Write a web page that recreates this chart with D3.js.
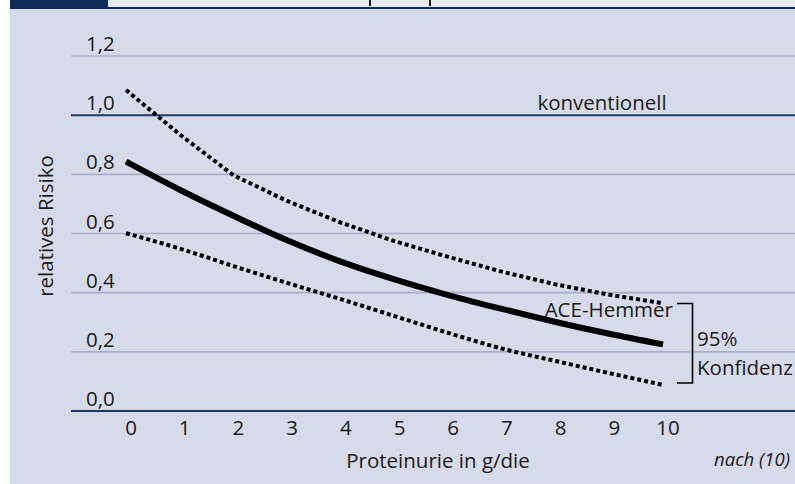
<!DOCTYPE html>
<html>
<head>
<meta charset="utf-8">
<script src="https://cdn.jsdelivr.net/npm/d3@7"></script>
<style>
  body { margin: 0; background: #ffffff; }
  svg { display: block; }
  text { font-family: "Open Sans", "Noto Sans", sans-serif; fill: #1a1a1a; }
</style>
</head>
<body>
<svg id="chart" width="795" height="484"></svg>
<script>
// data
var proteinurie = [0, 1, 2, 3, 4, 5, 6, 7, 8, 9, 10];
var aceHemmer   = [0.843, 0.748, 0.660, 0.577, 0.505, 0.445, 0.392, 0.345, 0.301, 0.261, 0.225];
var oberGrenze  = [1.085, 0.935, 0.797, 0.710, 0.637, 0.574, 0.521, 0.471, 0.428, 0.393, 0.364];
var unterGrenze = [0.601, 0.549, 0.490, 0.433, 0.378, 0.321, 0.264, 0.211, 0.169, 0.128, 0.088];
var yTicks      = [0, 0.2, 0.4, 0.6, 0.8, 1.0, 1.2];
var yTickLabels = ["0,0", "0,2", "0,4", "0,6", "0,8", "1,0", "1,2"];

var svg = d3.select("#chart");

var navy = "#0e2b5a";
var bg = "#d7dbe9";
var fs = 20.5;

// background + header strip
svg.append("rect").attr("x", 10).attr("y", 0).attr("width", 785).attr("height", 484).attr("fill", bg);
svg.append("rect").attr("x", 108).attr("y", 0).attr("width", 687).attr("height", 7).attr("fill", "#e6e8f2");
svg.append("rect").attr("x", 10).attr("y", 0).attr("width", 98).attr("height", 9).attr("fill", navy);
svg.append("rect").attr("x", 10).attr("y", 7).attr("width", 785).attr("height", 2).attr("fill", navy);
// cut-off descenders of the title above
svg.append("rect").attr("x", 369).attr("y", 0).attr("width", 2).attr("height", 6).attr("fill", "#1a1a1a");
svg.append("rect").attr("x", 429).attr("y", 0).attr("width", 2).attr("height", 6).attr("fill", "#1a1a1a");

var x = d3.scaleLinear().domain([0, 10]).range([126, 663]);
var y = d3.scaleLinear().domain([0, 1.2]).range([411, 56]);

// gridlines
svg.selectAll(".grid")
  .data(yTicks)
  .enter().append("line")
  .attr("x1", 71).attr("x2", 795)
  .attr("y1", function(d) { return y(d); })
  .attr("y2", function(d) { return y(d); })
  .attr("stroke", function(d) { return (d == 0 || d == 1.0) ? "#1f3868" : "#a7adcb"; })
  .attr("stroke-width", function(d) { return (d == 0 || d == 1.0) ? 2 : 1.6; });

// y tick labels sit above their line
svg.selectAll(".ylab")
  .data(yTicks)
  .enter().append("text")
  .attr("x", 86)
  .attr("y", function(d) { return y(d) - 5; })
  .attr("font-size", fs)
  .text(function(d, i) { return yTickLabels[i]; });

// x tick labels
svg.selectAll(".xlab")
  .data(proteinurie)
  .enter().append("text")
  .attr("x", function(d) { return x(d) + 5; })
  .attr("y", 435)
  .attr("text-anchor", "middle")
  .attr("font-size", fs)
  .text(function(d) { return d; });

var line = d3.line()
  .x(function(d, i) { return x(proteinurie[i]); })
  .y(function(d) { return y(d); });

var smooth = d3.line()
  .x(function(d, i) { return x(proteinurie[i]); })
  .y(function(d) { return y(d); })
  .curve(d3.curveMonotoneX);

svg.append("path").attr("d", line(oberGrenze))
  .attr("fill", "none").attr("stroke", "#000")
  .attr("stroke-width", 4).attr("stroke-dasharray", "4 3");

svg.append("path").attr("d", smooth(unterGrenze))
  .attr("fill", "none").attr("stroke", "#000")
  .attr("stroke-width", 4).attr("stroke-dasharray", "4 3");

svg.append("path").attr("d", smooth(aceHemmer))
  .attr("fill", "none").attr("stroke", "#000")
  .attr("stroke-width", 6);

// labels
svg.append("text").attr("x", 602).attr("y", 110).attr("text-anchor", "middle")
  .attr("font-size", fs).text("konventionell");

svg.append("text").attr("x", 673).attr("y", 317).attr("text-anchor", "end")
  .attr("font-size", fs).text("ACE-Hemmer");

svg.append("path")
  .attr("d", "M677,303.5H692.5V383H677")
  .attr("fill", "none").attr("stroke", "#000").attr("stroke-width", 1.6);

svg.append("text").attr("x", 697).attr("y", 346).attr("font-size", fs).text("95%");
svg.append("text").attr("x", 697).attr("y", 375).attr("font-size", fs).text("Konfidenz");

svg.append("text").attr("x", 438).attr("y", 468).attr("text-anchor", "middle")
  .attr("font-size", fs).text("Proteinurie in g/die");

svg.append("text").attr("x", 790).attr("y", 466).attr("text-anchor", "end")
  .attr("font-size", 18.5).attr("font-style", "italic").text("nach (10)");

svg.append("text")
  .attr("transform", "translate(53,226) rotate(-90)")
  .attr("text-anchor", "middle")
  .attr("font-size", fs)
  .text("relatives Risiko");
</script>
</body>
</html>
